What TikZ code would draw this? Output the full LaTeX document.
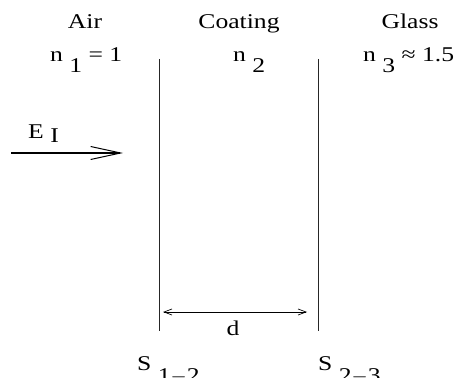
\documentclass[tikz,border=0pt]{standalone}
\usepackage{fontspec}
\setmainfont{Liberation Serif}[FakeStretch=1.22]
\usetikzlibrary{arrows.meta}

\begin{document}
\begin{tikzpicture}[
                x=1pt, y=1pt,
                label/.style={
                    inner sep=0pt,
                    font=\fontsize{21}{25}\selectfont
                },
                surface/.style={
                    draw=black!85,
                    line width=0.9pt
                },
                beam/.style={
                    -{Straight Barb[length=30pt,width=13pt,line width=1pt]},
                    line width=1.2pt
                },
                gap/.style={
                    {Straight Barb[length=8pt,width=6pt]}-{Straight Barb[length=8pt,width=6pt]},
                    line width=0.7pt
                }
            ]
                \useasboundingbox (0,0) rectangle (454,377);

                % media
                \node[label, anchor=base] (air)  at (85,348)  {Air};
                \node[label, anchor=base] (coat) at (239,348) {Coating};
                \node[label, anchor=base] (glass) at (410,348) {Glass};

                \node[label, anchor=base west] (n1) at (50,315)  {n \raisebox{-11pt}{1} = 1};
                \node[label, anchor=base west] (n2) at (233,315) {n \raisebox{-11pt}{2}};
                \node[label, anchor=base west] (n3) at (363,315) {n \raisebox{-11pt}{3} ≈ 1.5};

                % surfaces
                \coordinate (s1top) at (159,318);
                \coordinate (s1bot) at (159,46);
                \coordinate (s2top) at (318,318);
                \coordinate (s2bot) at (318,46);
                \draw[surface] (s1top) -- (s1bot);
                \draw[surface] (s2top) -- (s2bot);

                % incident field
                \node[label, anchor=base west] (ei) at (28,238) {E \raisebox{-4pt}{I}};
                \coordinate (beamstart) at (11,224);
                \coordinate (beamend) at (123,224);
                \draw[beam] (beamstart) -- (beamend);

                % thickness
                \coordinate (dleft) at (163,65);
                \coordinate (dright) at (307,65);
                \draw[gap] (dleft) -- (dright);
                \node[label, anchor=base] (d) at (233,42) {d};

                \node[label, anchor=base west] (s12) at (137,7) {S \raisebox{-12pt}{1$-$2}};
                \node[label, anchor=base west] (s23) at (318,7) {S \raisebox{-12pt}{2$-$3}};
        \end{tikzpicture}
\end{document}
